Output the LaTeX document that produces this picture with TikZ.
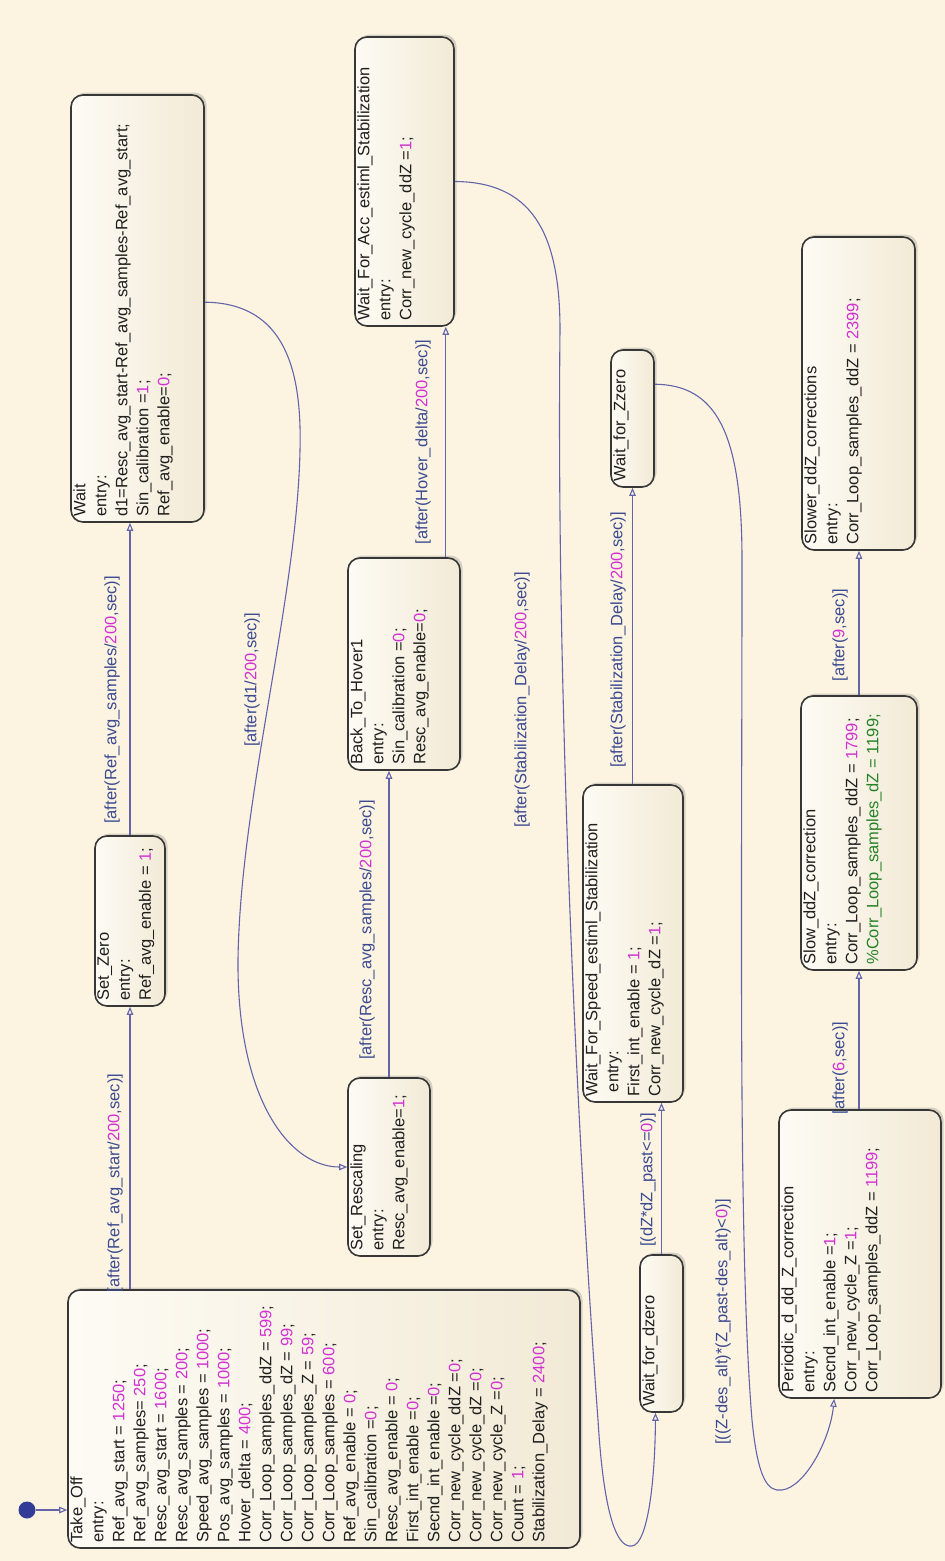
\documentclass[tikz,border=0pt]{standalone}
\usepackage{fontspec}
\setmainfont{Liberation Sans}
\usetikzlibrary{arrows.meta,calc,shadows}
\definecolor{bg}{RGB}{252,244,225}
\definecolor{sfillA}{RGB}{253,251,244}
\definecolor{sfillB}{RGB}{242,234,214}
\definecolor{lblue}{RGB}{60,75,145}
\definecolor{mag}{RGB}{210,50,210}
\definecolor{cgreen}{RGB}{40,130,40}
\definecolor{trc}{RGB}{100,100,170}
\definecolor{sborder}{RGB}{55,55,55}
\definecolor{dotc}{RGB}{50,60,150}
\newcommand\vnum[1]{\textcolor{mag}{#1}}
\newcommand\vcom[1]{\textcolor{cgreen}{#1}}
\begin{document}
\begin{tikzpicture}[x=1pt,y=-1pt,
  state/.style={draw=sborder, line width=1.6pt, rounded corners=12pt,
    left color=sfillA, right color=sfillB,
    drop shadow={shadow xshift=2.5pt, shadow yshift=2.5pt, opacity=0.3}},
  txt/.style={rotate=90, anchor=north west, align=left, inner sep=0pt,
    font=\fontsize{16.5}{21}\selectfont, text=black!88},
  lbl/.style={rotate=90, inner sep=0pt, font=\fontsize{16.5}{20}\selectfont, text=lblue},
  tr/.style={draw=trc, line width=1.1pt, -{Triangle[open,length=8pt,width=6.5pt]}}
]
\fill[bg] (0,0) rectangle (945,1561);
\useasboundingbox (0,0) rectangle (945,1561);

% states
\node[state, minimum width=512, minimum height=258] (takeoff) at (324,1419) {};
\node[state, minimum width=70, minimum height=170] (setzero) at (130,921) {};
\node[state, minimum width=133, minimum height=427] (wait) at (137.5,308.5) {};
\node[state, minimum width=82, minimum height=178] (setresc) at (389,1167) {};
\node[state, minimum width=112, minimum height=212] (bth) at (404,664) {};
\node[state, minimum width=99, minimum height=289] (wfa) at (404.5,181.5) {};
\node[state, minimum width=100, minimum height=317] (wfs) at (633,943.5) {};
\node[state, minimum width=43, minimum height=137] (wfz) at (632.5,418.5) {};
\node[state, minimum width=43, minimum height=157] (wfd) at (661.5,1333.5) {};
\node[state, minimum width=162, minimum height=288] (periodic) at (860,1254) {};
\node[state, minimum width=116, minimum height=274] (slow) at (859,833) {};
\node[state, minimum width=113, minimum height=313] (slower) at (858.5,393.5) {};

% state texts
\node[txt] (takeoff-t) at ($(takeoff.south west)+(3,-6)$) {Take\_Off\\entry:\\
Ref\_avg\_start = \vnum{1250};\\
Ref\_avg\_samples= \vnum{250};\\
Resc\_avg\_start = \vnum{1600};\\
Resc\_avg\_samples = \vnum{200};\\
Speed\_avg\_samples = \vnum{1000};\\
Pos\_avg\_samples = \vnum{1000};\\
Hover\_delta = \vnum{400};\\
Corr\_Loop\_samples\_ddZ = \vnum{599};\\
Corr\_Loop\_samples\_dZ = \vnum{99};\\
Corr\_Loop\_samples\_Z = \vnum{59};\\
Corr\_Loop\_samples = \vnum{600};\\
Ref\_avg\_enable = \vnum{0};\\
Sin\_calibration =\vnum{0};\\
Resc\_avg\_enable = \vnum{0};\\
First\_int\_enable =\vnum{0};\\
Secnd\_int\_enable =\vnum{0};\\
Corr\_new\_cycle\_ddZ =\vnum{0};\\
Corr\_new\_cycle\_dZ =\vnum{0};\\
Corr\_new\_cycle\_Z =\vnum{0};\\
Count = \vnum{1};\\
Stabilization\_Delay = \vnum{2400};};
\node[txt] (setzero-t) at ($(setzero.south west)+(3,-6)$) {Set\_Zero\\entry:\\Ref\_avg\_enable = \vnum{1};};
\node[txt] (wait-t) at ($(wait.south west)+(3,-6)$) {Wait\\entry:\\d1=Resc\_avg\_start-Ref\_avg\_samples-Ref\_avg\_start;\\Sin\_calibration =\vnum{1};\\Ref\_avg\_enable=\vnum{0};};
\node[txt] (setresc-t) at ($(setresc.south west)+(3,-6)$) {Set\_Rescaling\\entry:\\Resc\_avg\_enable=\vnum{1};};
\node[txt] (bth-t) at ($(bth.south west)+(3,-6)$) {Back\_To\_Hover1\\entry:\\Sin\_calibration =\vnum{0};\\Resc\_avg\_enable=\vnum{0};};
\node[txt] (wfa-t) at ($(wfa.south west)+(3,-6)$) {Wait\_For\_Acc\_estiml\_Stabilization\\entry:\\Corr\_new\_cycle\_ddZ =\vnum{1};};
\node[txt] (wfs-t) at ($(wfs.south west)+(3,-6)$) {Wait\_For\_Speed\_estiml\_Stabilization\\~entry:\\First\_int\_enable = \vnum{1};\\Corr\_new\_cycle\_dZ =\vnum{1};};
\node[txt] (wfz-t) at ($(wfz.south west)+(3,-6)$) {Wait\_for\_Zzero};
\node[txt] (wfd-t) at ($(wfd.south west)+(3,-6)$) {Wait\_for\_dzero};
\node[txt] (periodic-t) at ($(periodic.south west)+(3,-6)$) {Periodic\_d\_dd\_Z\_correction\\entry:\\Secnd\_int\_enable =\vnum{1};\\Corr\_new\_cycle\_Z =\vnum{1};\\Corr\_Loop\_samples\_ddZ = \vnum{1199};};
\node[txt] (slow-t) at ($(slow.south west)+(3,-6)$) {Slow\_ddZ\_correction\\entry:\\Corr\_Loop\_samples\_ddZ = \vnum{1799};\\\vcom{\%Corr\_Loop\_samples\_dZ = 1199;}};
\node[txt] (slower-t) at ($(slower.south west)+(3,-6)$) {Slower\_ddZ\_corrections\\entry:\\Corr\_Loop\_samples\_ddZ = \vnum{2399};};

% default transition
\node[circle, fill=dotc, inner sep=0pt, minimum size=17] (init) at (27,1510) {};
\draw[tr] (init) -- (init -| takeoff.west);

% transitions
\draw[tr] (takeoff.north -| setzero.south) -- (setzero.south);
\draw[tr] (setzero.north) -- (setzero.north |- wait.south);
\coordinate (t3a) at ($(wait.north east)+(0,208)$);
\draw[tr] (t3a) .. controls (285,303) and (302,370) .. (300,450)
  .. controls (297,600) and (240,800) .. (238,960)
  .. controls (237,1100) and (290,1167) .. (setresc.west);
\draw[tr] (setresc.north) -- (setresc.north |- bth.south);
\coordinate (t5a) at ($(bth.north east)+(-15,0)$);
\draw[tr] (t5a) -- (t5a |- wfa.south);
\coordinate (t6b) at ($(wfd.south)+(-6,0)$);
\draw[tr] (wfa.east) .. controls (530,182) and (560,230) .. (560,330)
  .. controls (556,700) and (578,1150) .. (598,1420)
  .. controls (604,1520) and (618,1548) .. (632,1546)
  .. controls (648,1544) and (655,1480) .. (t6b);
\draw[tr] (wfd.north) -- (wfd.north |- wfs.south);
\draw[tr] (wfs.north -| wfz.south) -- (wfz.south);
\coordinate (t9a) at ($(wfz.north east)+(0,35)$);
\coordinate (t9b) at ($(periodic.south west)+(56,0)$);
\draw[tr] (t9a) .. controls (715,385) and (742,430) .. (742,560)
  .. controls (742,900) and (738,1250) .. (752,1420)
  .. controls (758,1480) and (768,1492) .. (782,1490)
  .. controls (805,1487) and (830,1440) .. (t9b);
\draw[tr] (periodic.north -| slow.south) -- (slow.south);
\draw[tr] (slow.north) -- (slow.north |- slower.south);

% labels
\node[lbl] (l1) at (115,1183) {[after(Ref\_avg\_start/\vnum{200},sec)]};
\node[lbl] (l2) at (112,700) {[after(Ref\_avg\_samples/\vnum{200},sec)]};
\node[lbl] (l3) at (252,680) {[after(d1/\vnum{200},sec)]};
\node[lbl] (l4) at (367,930) {[after(Resc\_avg\_samples/\vnum{200},sec)]};
\node[lbl] (l5) at (423,442) {[after(Hover\_delta/\vnum{200},sec)]};
\node[lbl] (l6) at (522,700) {[after(Stabilization\_Delay/\vnum{200},sec)]};
\node[lbl] (l7) at (648,1180) {[(dZ*dZ\_past<=\vnum{0})]};
\node[lbl] (l8) at (618,640) {[after(Stabilization\_Delay/\vnum{200},sec)]};
\node[lbl] (l9) at (723,1322) {[((Z-des\_alt)*(Z\_past-des\_alt)<\vnum{0})]};
\node[lbl] (l10) at (840,1068) {[after(\vnum{6},sec)]};
\node[lbl] (l11) at (840,635) {[after(\vnum{9},sec)]};
\end{tikzpicture}
\end{document}
